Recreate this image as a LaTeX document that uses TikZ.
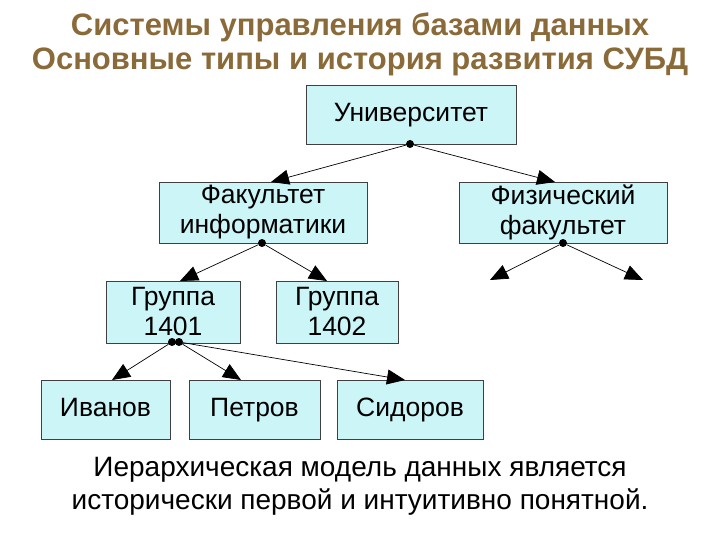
\documentclass[tikz,border=0pt]{standalone}
\usepackage{fontspec}
\setmainfont{Liberation Sans}
\usetikzlibrary{arrows.meta}
\definecolor{boxfill}{HTML}{CCF5F8}
\definecolor{titlec}{HTML}{8A6A38}
\begin{document}
\begin{tikzpicture}[x=1pt,y=-1pt,
  box/.style={draw=black!75,fill=boxfill,line width=0.9pt,inner sep=0pt,align=center,font=\fontsize{26.5}{30}\selectfont},
  one/.style={text height=20pt,text depth=6pt},
  con/.style={line width=0.7pt,-{Triangle[length=18pt,width=15pt]}},
  dotc/.style={circle,fill=black,inner sep=0pt,minimum size=8pt},
  ttl/.style={font=\bfseries\fontsize{31}{34}\selectfont,text=titlec}]
\useasboundingbox (0,0) rectangle (720,540);
\node[ttl] (t1) at (360,27) {Системы управления базами данных};
\node[ttl] (t2) at (360,62) {Основные типы и история развития СУБД};
\node[box,one,minimum width=210pt,minimum height=59pt] (u) at (411,114.5) {Университет};
\node[box,minimum width=208pt,minimum height=61pt] (fi) at (263,212.5) {Факультет\\информатики};
\node[box,minimum width=208pt,minimum height=61pt] (ph) at (563,212.5) {Физический\\факультет};
\node[box,minimum width=134pt,minimum height=62pt] (g1) at (173,312) {Группа\\1401};
\node[box,minimum width=122pt,minimum height=62pt] (g2) at (337,312) {Группа\\1402};
\node[box,one,minimum width=129pt,minimum height=59pt] (iv) at (105.5,409.5) {Иванов};
\node[box,one,minimum width=131pt,minimum height=59pt] (pe) at (254.5,409.5) {Петров};
\node[box,one,minimum width=146pt,minimum height=59pt] (si) at (410,409.5) {Сидоров};
\node[dotc] (du) at (410,144) {};
\node[dotc] (dfi) at (262,243) {};
\node[dotc] (dph) at (563,243) {};
\node[dotc] (dg1) at (172,342) {};
\node[dotc] (dg1b) at (179,342) {};
\coordinate (pa) at (490,280);
\coordinate (pb) at (643,280);
\draw[con] (du) -- (271,182);
\draw[con] (du) -- (555,182);
\draw[con] (dfi) -- (180,281);
\draw[con] (dfi) -- (327,281);
\draw[con] (dph) -- (pa);
\draw[con] (dph) -- (pb);
\draw[con] (dg1) -- (112,380);
\draw[con] (dg1b) -- (241,380);
\draw[con] (dg1b) -- (405,380);
\node[align=center,font=\fontsize{28}{33}\selectfont] (cap) at (360,486) {Иерархическая модель данных является\\исторически первой и интуитивно понятной.};
\end{tikzpicture}
\end{document}
